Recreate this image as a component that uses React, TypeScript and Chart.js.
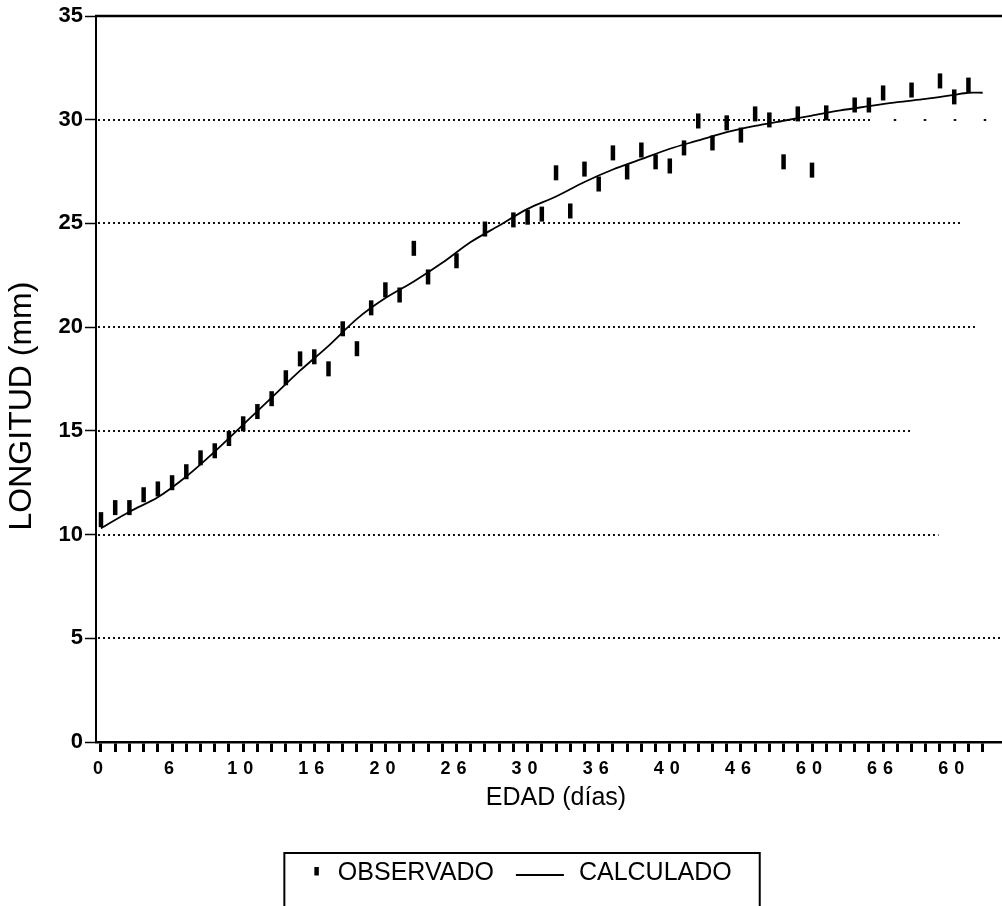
import React, { useEffect, useRef } from 'react';
import { Chart, registerables } from 'chart.js';

Chart.register(...registerables);

// ---- data ----
const observedDays = [
  0, 1, 2, 3, 4, 5, 6, 7, 8, 9, 10, 11, 12, 13, 14, 15, 16, 17, 18, 19, 20, 21, 22, 23,
  25, 27, 29, 30, 31, 32, 33, 34, 35, 36, 37, 38, 39, 40, 41, 42, 43, 44, 45, 46, 47,
  48, 49, 50, 51, 53, 54, 55, 57, 59, 60, 61,
];
const observedLength = [
  10.72, 11.3, 11.3, 11.92, 12.2, 12.5, 13.03, 13.7, 14.04, 14.63, 15.34, 15.93, 16.55,
  17.56, 18.47, 18.57, 17.99, 19.92, 18.96, 20.93, 21.8, 21.55, 23.8, 22.42,
  23.2, 24.73, 25.17, 25.3, 25.45, 27.44, 25.6, 27.62, 26.9, 28.4, 27.48, 28.54, 27.97,
  27.77, 28.64, 29.94, 28.88, 29.85, 29.26, 30.28, 29.99,
  27.97, 30.28, 27.57, 30.33, 30.71, 30.71, 31.29, 31.43, 31.87, 31.1, 31.67,
];
const calculatedDays = [
  0, 2, 4, 6, 8, 10, 12, 14, 16, 18, 20, 22, 24, 26, 28, 30, 32, 34, 36, 38, 40, 42, 44,
  46, 48, 50, 52, 54, 56, 58, 60, 61, 62,
];
const calculatedLength = [
  10.3, 11.1, 11.8, 12.8, 14.0, 15.3, 16.6, 17.9, 19.1, 20.4, 21.4, 22.2, 23.1, 24.1,
  24.9, 25.7, 26.3, 27.0, 27.6, 28.1, 28.6, 29.0, 29.4, 29.7, 29.95, 30.2, 30.45, 30.65,
  30.85, 31.0, 31.2, 31.3, 31.3,
];
const xTickLabels = ['0', '6', '10', '16', '20', '26', '30', '36', '40', '46', '60', '66', '60'];
const xTickDays = Array.from({ length: 63 }, (_, i) => i); // one tick mark per day, 0..62
const yTickValues = [0, 5, 10, 15, 20, 25, 30, 35];
const seriesNames = ['OBSERVADO', 'CALCULADO'];
const xTitle = 'EDAD (días)';
const yTitle = 'LONGITUD (mm)';

const FAMILY = '"Liberation Sans", Arial, Helvetica, sans-serif';

// how far each dotted guide line of the scanned figure reaches (style only)
const GRID_STYLE: Record<number, { dense: number; sparse?: number }> = {
  5: { dense: 99 },
  10: { dense: 58.9 },
  15: { dense: 57.1 },
  20: { dense: 61.6 },
  25: { dense: 60.5 },
  30: { dense: 54.2, sparse: 62.3 },
};

const guideLinesPlugin = {
  id: 'guideLines',
  beforeDatasetsDraw(chart: any) {
    const { ctx, chartArea, scales } = chart;
    const xs = scales.x;
    const ys = scales.y;
    ctx.save();
    ctx.strokeStyle = '#111';
    ctx.lineWidth = 1.8;
    for (const t of ys.ticks) {
      const st = GRID_STYLE[t.value];
      if (!st) continue;
      const y = Math.round(ys.getPixelForValue(t.value));
      const xEnd = Math.min(chartArea.right, xs.getPixelForValue(st.dense));
      ctx.setLineDash([2, 3]);
      ctx.beginPath();
      ctx.moveTo(chartArea.left + 2, y);
      ctx.lineTo(xEnd, y);
      ctx.stroke();
      if (st.sparse) {
        ctx.setLineDash([2.5, 27.5]);
        ctx.beginPath();
        ctx.moveTo(xEnd + 22, y);
        ctx.lineTo(Math.min(chartArea.right, xs.getPixelForValue(st.sparse)), y);
        ctx.stroke();
      }
    }
    ctx.restore();
  },
};

const topBorderPlugin = {
  id: 'topBorder',
  afterDraw(chart: any) {
    const { ctx, chartArea } = chart;
    ctx.save();
    ctx.strokeStyle = '#000';
    ctx.lineWidth = 2.5;
    ctx.beginPath();
    ctx.moveTo(chartArea.left - 1, chartArea.top);
    ctx.lineTo(chartArea.right, chartArea.top);
    ctx.stroke();
    ctx.restore();
  },
};

// letter-spaced x tick labels and slightly shifted axis titles, as in the scan
const axisTextPlugin = {
  id: 'axisText',
  beforeDraw(chart: any) {
    const x: any = chart.scales.x;
    const y: any = chart.scales.y;
    const c: any = chart.ctx;
    if (x && !x.__patched) {
      const origLabels = x.drawLabels.bind(x);
      x.drawLabels = (area: any) => {
        c.save();
        c.letterSpacing = '6px';
        origLabels(area);
        c.restore();
      };
      const origTitle = x.drawTitle.bind(x);
      x.drawTitle = () => {
        c.save();
        c.translate(7, 0);
        origTitle();
        c.restore();
      };
      x.__patched = true;
    }
    if (y && !y.__patched) {
      const origTitle = y.drawTitle.bind(y);
      y.drawTitle = () => {
        c.save();
        c.translate(0, 27);
        origTitle();
        c.restore();
      };
      y.__patched = true;
    }
  },
};

const boxLegendPlugin = {
  id: 'boxLegend',
  afterDraw(chart: any) {
    const ctx = chart.ctx;
    const ds = chart.data.datasets;
    ctx.save();
    ctx.font = `25px ${FAMILY}`;
    ctx.fillStyle = '#000';
    ctx.textBaseline = 'middle';
    ctx.textAlign = 'left';
    const w1 = ctx.measureText(ds[0].label).width;
    const w2 = ctx.measureText(ds[1].label).width;
    const markerW = 4.5;
    const gap1 = 19;
    const gap2 = 22;
    const lineLen = 48;
    const gap3 = 15;
    const total = markerW + gap1 + w1 + gap2 + lineLen + gap3 + w2;
    const cx = chart.width * 0.522;
    const cy = chart.height - 33;
    let x = cx - total / 2;
    const start = x;

    ctx.strokeStyle = '#000';
    ctx.lineWidth = markerW;
    ctx.beginPath();
    ctx.moveTo(x + markerW / 2, cy - 6);
    ctx.lineTo(x + markerW / 2, cy + 2.5);
    ctx.stroke();
    x += markerW + gap1;
    ctx.fillText(ds[0].label, x, cy);
    x += w1 + gap2;
    ctx.lineWidth = 1.8;
    ctx.beginPath();
    ctx.moveTo(x, cy + 2);
    ctx.lineTo(x + lineLen, cy + 2);
    ctx.stroke();
    x += lineLen + gap3;
    ctx.fillText(ds[1].label, x, cy);
    x += w2;

    ctx.lineWidth = 2;
    ctx.strokeRect(start - 30, cy - 20, x + 28 - (start - 30), chart.height + 20 - (cy - 20));
    ctx.restore();
  },
};

export default function App() {
  const ref = useRef<HTMLCanvasElement | null>(null);

  useEffect(() => {
    if (!ref.current) return;
    const chart = new Chart(ref.current, {
      type: 'line',
      data: {
        datasets: [
          {
            label: seriesNames[0],
            data: observedDays.map((d, i) => ({ x: d, y: observedLength[i] })),
            showLine: false,
            pointStyle: 'line',
            pointRotation: 90,
            pointRadius: 7.5,
            pointHoverRadius: 7.5,
            pointBorderWidth: 4.5,
            pointBorderColor: '#000',
            pointBackgroundColor: '#000',
            borderColor: '#000',
          },
          {
            label: seriesNames[1],
            data: calculatedDays.map((d, i) => ({ x: d, y: calculatedLength[i] })),
            borderColor: '#000',
            borderWidth: 1.8,
            pointRadius: 0,
            pointHoverRadius: 0,
            tension: 0.3,
            fill: false,
          },
        ],
      } as any,
      options: {
        responsive: false,
        animation: false,
        events: [],
        layout: { autoPadding: false, padding: { top: 16, left: 0, right: 0, bottom: 84 } },
        plugins: {
          legend: { display: false },
          tooltip: { enabled: false },
        },
        scales: {
          x: {
            type: 'linear',
            min: -0.35,
            max: 63.36,
            afterBuildTicks: (s: any) => {
              s.ticks = xTickDays.map((v) => ({ value: v }));
            },
            afterFit: (s: any) => {
              s.height = 80;
            },
            ticks: {
              autoSkip: false,
              maxRotation: 0,
              minRotation: 0,
              padding: 6,
              color: '#000',
              font: { family: FAMILY, size: 18, weight: 'bold' },
              callback: (v: any) => (v % 5 === 0 ? xTickLabels[v / 5] : ''),
            },
            grid: {
              drawOnChartArea: false,
              drawTicks: true,
              tickLength: 10,
              tickWidth: 3,
              tickColor: '#000',
            },
            border: { display: true, color: '#000', width: 2.5 },
            title: {
              display: true,
              text: xTitle,
              color: '#000',
              font: { family: FAMILY, size: 25 },
              padding: { top: 0, bottom: 9 },
            },
          },
          y: {
            type: 'linear',
            min: 0,
            max: 35,
            afterBuildTicks: (s: any) => {
              s.ticks = yTickValues.map((v) => ({ value: v }));
            },
            afterFit: (s: any) => {
              s.width = 96;
            },
            ticks: {
              color: '#000',
              padding: 2,
              font: { family: FAMILY, size: 22, weight: 'bold' },
            },
            grid: {
              drawOnChartArea: false,
              drawTicks: true,
              tickLength: 11,
              tickWidth: 1.5,
              tickColor: '#000',
              tickBorderDash: [],
            },
            border: { display: true, color: '#000', width: 2 },
            title: {
              display: true,
              text: yTitle,
              color: '#000',
              font: { family: FAMILY, size: 32 },
              padding: { top: 3, bottom: 0 },
            },
          },
        },
      } as any,
      plugins: [axisTextPlugin, guideLinesPlugin, topBorderPlugin, boxLegendPlugin],
    });
    return () => chart.destroy();
  }, []);

  return (
    <div style={{ position: 'absolute', left: 0, top: 0, width: 1002, height: 906, background: '#fff' }}>
      <canvas ref={ref} width={1002} height={906} style={{ display: 'block' }} />
    </div>
  );
}
